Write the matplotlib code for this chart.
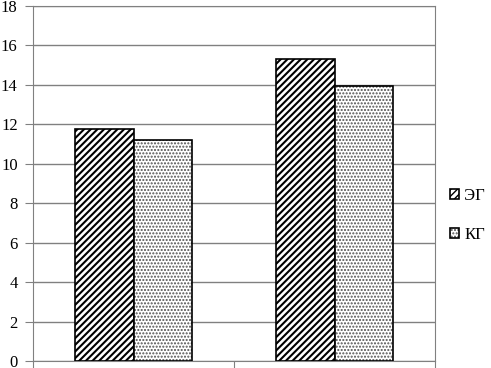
import numpy as np
import matplotlib.pyplot as plt

plt.rcParams['font.family'] = 'Liberation Serif'

groups = ["1", "2"]
series = ["ЭГ", "КГ"]
eg_vals = [11.76, 15.3]
kg_vals = [11.2, 13.95]

fig = plt.figure(figsize=(4.91, 3.68), dpi=100)
ax = fig.add_axes([33/491, 7/368, 402/491, 355/368])

x = np.arange(len(groups))
w = 0.29
with plt.rc_context({'hatch.linewidth': 1.5}):
    eg = ax.bar(x - w/2, eg_vals, w, color="white", edgecolor="black", hatch="/////", linewidth=1.2, zorder=3)
with plt.rc_context({'hatch.linewidth': 1.0}):
    kg = ax.bar(x + w/2, kg_vals, w, color="white", edgecolor="#505050", hatch=".....", linewidth=0, zorder=3)
kg_box = ax.bar(x + w/2, kg_vals, w, fill=False, edgecolor="black", linewidth=1.2, zorder=4)

ax.set_xlim(-0.5, 1.5)
ax.set_ylim(0, 18)
ax.set_yticks(np.arange(0, 19, 2))
ax.set_xticks([-0.5, 0.5, 1.5])
ax.set_xticklabels([])
ax.yaxis.grid(True, color="#808080", linewidth=1, zorder=0)
ax.tick_params(axis="y", labelsize=12, length=6, color="#808080", pad=5)
ax.tick_params(axis="x", length=5, color="#808080")
for s in ax.spines.values():
    s.set_color("#808080")

leg = ax.legend([eg, (kg, kg_box)], series, loc="center left", bbox_to_anchor=(1.0, 0.41),
                frameon=False, fontsize=12, handlelength=0.55, handleheight=0.55,
                handletextpad=0.3, labelspacing=1.4)
plt.savefig("out.png", dpi=100)
